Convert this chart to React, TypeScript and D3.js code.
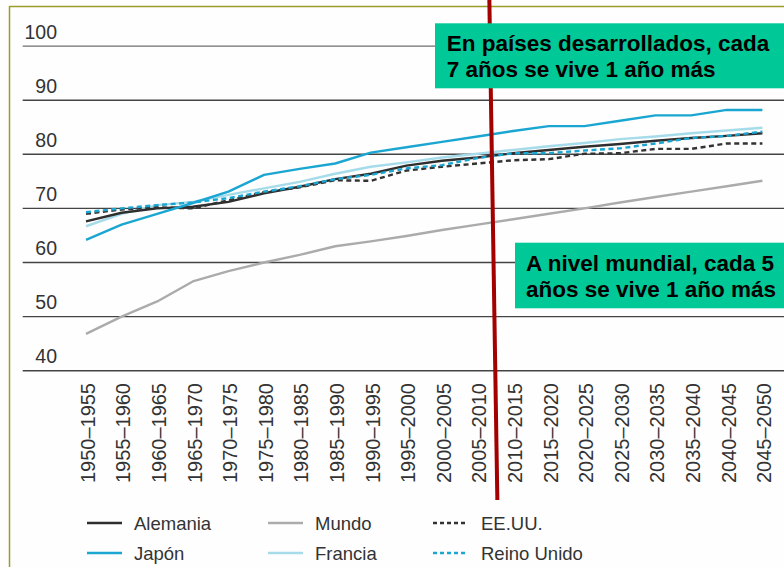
import React from "react";
import * as d3 from "d3";

const categories = [
  "1950–1955", "1955–1960", "1960–1965", "1965–1970", "1970–1975",
  "1975–1980", "1980–1985", "1985–1990", "1990–1995", "1995–2000",
  "2000–2005", "2005–2010", "2010–2015", "2015–2020", "2020–2025",
  "2025–2030", "2030–2035", "2035–2040", "2040–2045", "2045–2050",
];

const alemania = [67.6, 69.2, 70.0, 70.3, 71.2, 72.8, 74.0, 75.4, 76.4, 77.9, 78.8, 79.4, 80.2, 80.8, 81.4, 81.9, 82.5, 83.0, 83.4, 83.9];
const japon = [64.2, 67.0, 69.0, 71.0, 73.1, 76.2, 77.3, 78.3, 80.3, 81.3, 82.3, 83.3, 84.3, 85.2, 85.2, 86.2, 87.2, 87.2, 88.2, 88.2];
const mundo = [46.8, 50.0, 52.8, 56.5, 58.4, 60.0, 61.4, 63.0, 63.9, 64.9, 66.0, 67.0, 68.0, 69.0, 70.0, 71.1, 72.1, 73.1, 74.1, 75.1];
const francia = [66.7, 69.0, 70.6, 71.2, 72.5, 73.7, 74.9, 76.4, 77.7, 78.5, 79.4, 80.1, 80.8, 81.5, 82.1, 82.8, 83.3, 83.9, 84.4, 84.9];
const eeuu = [69.0, 69.8, 70.2, 70.0, 71.5, 73.0, 73.9, 75.2, 75.1, 77.0, 77.7, 78.3, 78.9, 79.1, 80.1, 80.2, 81.0, 81.0, 82.0, 82.0];
const reinoUnido = [69.3, 70.0, 70.6, 71.1, 71.9, 73.1, 74.1, 75.4, 76.2, 77.4, 78.0, 79.3, 80.2, 80.2, 80.7, 81.1, 82.0, 83.0, 83.4, 84.2];

const yTicks = [40, 50, 60, 70, 80, 90, 100];

const series = [
  { name: "Mundo", values: mundo, color: "#ababab", dash: "" },
  { name: "Francia", values: francia, color: "#a6dbea", dash: "" },
  { name: "Alemania", values: alemania, color: "#2e2e2e", dash: "" },
  { name: "EE.UU.", values: eeuu, color: "#333333", dash: "5,3.5" },
  { name: "Reino Unido", values: reinoUnido, color: "#1ba6d2", dash: "5,3.5" },
  { name: "Japón", values: japon, color: "#1ba6d2", dash: "" },
];

const legendItems = [
  { name: "Alemania", color: "#2e2e2e", dash: "", col: 0, row: 0 },
  { name: "Mundo", color: "#ababab", dash: "", col: 1, row: 0 },
  { name: "EE.UU.", color: "#333333", dash: "4,3", col: 2, row: 0 },
  { name: "Japón", color: "#1ba6d2", dash: "", col: 0, row: 1 },
  { name: "Francia", color: "#a6dbea", dash: "", col: 1, row: 1 },
  { name: "Reino Unido", color: "#1ba6d2", dash: "4,3", col: 2, row: 1 },
];

const box1Lines = ["En países desarrollados, cada", "7 años se vive 1 año más"];
const box2Lines = ["A nivel mundial, cada 5", "años se vive 1 año más"];

const W = 784;
const H = 567;

export default function App() {
  const x = d3.scalePoint<string>().domain(categories).range([86, 762.4]);
  const xi = d3.scaleLinear().domain([0, categories.length - 1]).range([86, 762.4]);
  const y = d3.scaleLinear().domain([40, 100]).range([370.7, 46.1]);

  const line = (vals: number[]) =>
    d3
      .line<number>()
      .x((_, i) => x(categories[i]) as number)
      .y((v) => y(v))(vals) as string;

  const legendCols = [87, 268, 433];
  const legendRows = [523, 553];
  const font = "'Liberation Sans', Arial, Helvetica, sans-serif";

  return (
    <div style={{ position: "absolute", left: 0, top: 0 }}>
      <svg width={W} height={H} style={{ display: "block", background: "#fefefe" }}>
        {/* frame */}
        <line x1={9.5} x2={9.5} y1={6} y2={H} stroke="#9c9c28" strokeWidth={1.5} />
        <line x1={9.5} x2={W} y1={6.5} y2={6.5} stroke="#9c9c28" strokeWidth={1.5} />

        {/* grid + y labels */}
        {yTicks.map((t) => (
          <g key={t}>
            <line
              x1={22.7}
              x2={W}
              y1={y(t)}
              y2={y(t)}
              stroke={t === 100 ? "#6e6e6e" : "#444"}
              strokeWidth={1.4}
            />
            <text
              x={57}
              y={y(t) - 7.5}
              textAnchor="end"
              fontFamily={font}
              fontSize={19.5}
              fill="#333"
            >
              {t}
            </text>
          </g>
        ))}

        {/* x labels */}
        {categories.map((c) => (
          <text
            key={c}
            transform={`translate(${(x(c) as number) + 1.5},383) rotate(-90)`}
            textAnchor="end"
            dy="0.36em"
            fontFamily={font}
            fontSize={20}
            fill="#333"
          >
            {c}
          </text>
        ))}

        {/* series */}
        {series.map((s) => (
          <path
            key={s.name}
            d={line(s.values)}
            fill="none"
            stroke={s.color}
            strokeWidth={2.4}
            strokeDasharray={s.dash || undefined}
            strokeLinejoin="round"
          />
        ))}

        {/* red divider */}
        <line
          x1={xi(11.33)}
          y1={0}
          x2={xi(11.555)}
          y2={500}
          stroke="#a30000"
          strokeWidth={4}
        />

        {/* annotation boxes */}
        <rect x={435} y={23.3} width={W - 435} height={65} fill="#00c897" />
        {box1Lines.map((l, i) => (
          <text
            key={l}
            x={446.7}
            y={50.7 + i * 26.6}
            fontFamily={font}
            fontWeight="bold"
            fontSize={22.5}
            fill="#000"
          >
            {l}
          </text>
        ))}
        <rect x={515} y={242.7} width={W - 515} height={65.6} fill="#00c897" />
        {box2Lines.map((l, i) => (
          <text
            key={l}
            x={526}
            y={270.7 + i * 26.6}
            fontFamily={font}
            fontWeight="bold"
            fontSize={22.5}
            fill="#000"
          >
            {l}
          </text>
        ))}

        {/* legend */}
        {legendItems.map((it) => {
          const lx = legendCols[it.col];
          const ly = legendRows[it.row];
          return (
            <g key={it.name}>
              <line
                x1={lx}
                x2={lx + 35}
                y1={ly}
                y2={ly}
                stroke={it.color}
                strokeWidth={2.4}
                strokeDasharray={it.dash || undefined}
              />
              <text
                x={lx + (it.col === 2 ? 48 : 47)}
                y={ly}
                dy="0.36em"
                fontFamily={font}
                fontSize={18.5}
                fill="#333"
              >
                {it.name}
              </text>
            </g>
          );
        })}
      </svg>
    </div>
  );
}
